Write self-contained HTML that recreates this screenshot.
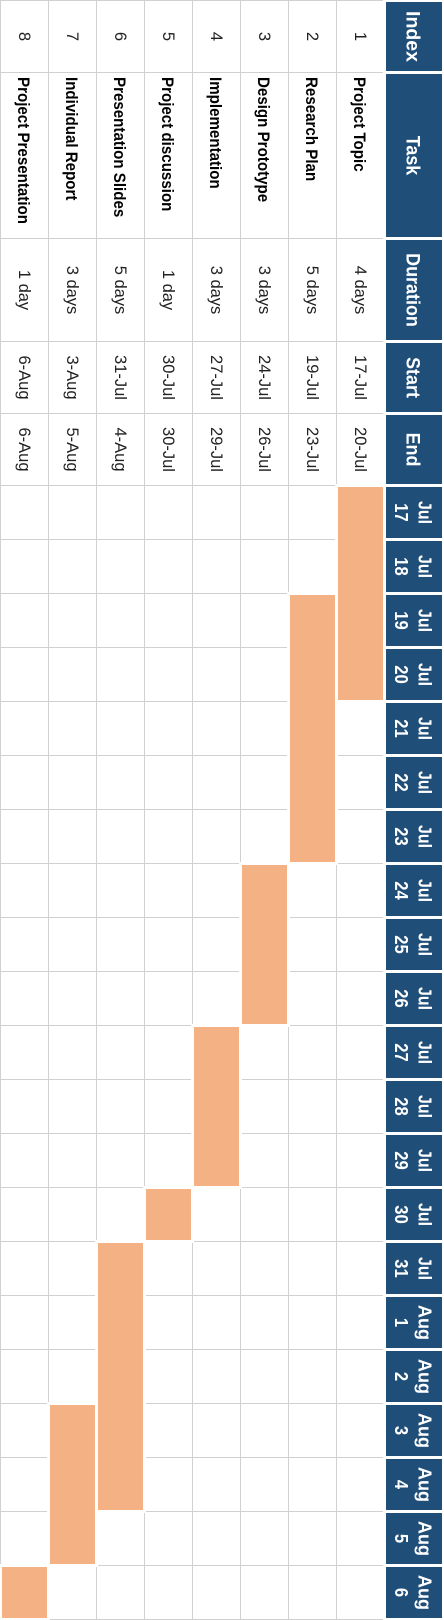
<!DOCTYPE html>
<html lang="en">
<head>
<meta charset="utf-8">
<title>Project Gantt Chart</title>
<style>
  html, body { margin: 0; padding: 0; background: #fff; }
  body { width: 444px; height: 1620px; overflow: hidden; }
  svg { display: block; }
  text { font-family: "Liberation Sans", sans-serif; }
</style>
</head>
<body>
<svg id="chart" width="444" height="1620" viewBox="0 0 444 1620" xmlns="http://www.w3.org/2000/svg">
  <rect x="0" y="0" width="444" height="1620" fill="#ffffff"></rect>
  <g id="grid"></g>
  <g id="bars"></g>
  <g id="headers"></g>
  <g id="cells"></g>
</svg>
<script>
// Chart data
const columnTitles = ['Index', 'Task', 'Duration', 'Start', 'End'];
const taskNames = ['Project Topic', 'Research Plan', 'Design Prototype', 'Implementation', 'Project discussion', 'Presentation Slides', 'Individual Report', 'Project Presentation'];
const startDays = [0, 2, 7, 10, 13, 14, 17, 20];
const durationDays = [4, 5, 3, 3, 1, 5, 3, 1];
const dayMonths = ['Jul', 'Jul', 'Jul', 'Jul', 'Jul', 'Jul', 'Jul', 'Jul', 'Jul', 'Jul', 'Jul', 'Jul', 'Jul', 'Jul', 'Jul', 'Aug', 'Aug', 'Aug', 'Aug', 'Aug', 'Aug'];
const dayNumbers = [17, 18, 19, 20, 21, 22, 23, 24, 25, 26, 27, 28, 29, 30, 31, 1, 2, 3, 4, 5, 6];

// Layout
const NS = 'http://www.w3.org/2000/svg';
const ROW_PITCH = 48;
const DAY_PITCH = 54;
const FIRST_ROW_LEFT = 336;
const DAY_ORIGIN = 485.5;
const GRID_RIGHT = 383;
const columnEdges = [0.5, 72.5, 238.5, 341.5, 413.5, DAY_ORIGIN];
const HEADER_LEFT = 386;
const HEADER_WIDTH = 56;
const GRID_COLOR = '#d0d0d0';
const BAR_COLOR = '#f4b183';
const HEADER_COLOR = '#1f4e79';
const BODY_TEXT_COLOR = '#222222';

const gridLayer = document.getElementById('grid');
const barLayer = document.getElementById('bars');
const headerLayer = document.getElementById('headers');
const cellLayer = document.getElementById('cells');

// Axis functions
function rowX(row) { return FIRST_ROW_LEFT - ROW_PITCH * row; }
function dayY(day) { return DAY_ORIGIN + DAY_PITCH * day; }

function makeRect(parent, x, y, w, h, fill, name) {
  const el = document.createElementNS(NS, 'rect');
  el.setAttribute('x', x);
  el.setAttribute('y', y);
  el.setAttribute('width', w);
  el.setAttribute('height', h);
  el.setAttribute('fill', fill);
  
  
  parent.appendChild(el);
  return el;
}

function makeLine(x1, y1, x2, y2, name) {
  const el = document.createElementNS(NS, 'line');
  el.setAttribute('x1', x1);
  el.setAttribute('y1', y1);
  el.setAttribute('x2', x2);
  el.setAttribute('y2', y2);
  el.setAttribute('stroke', GRID_COLOR);
  el.setAttribute('stroke-width', '1');
  
  
  gridLayer.appendChild(el);
}

// Text rotated 90deg clockwise; baseline sits on the left side at x.
function makeText(parent, str, x, y, size, weight, fill, anchor, stretch, name) {
  const el = document.createElementNS(NS, 'text');
  el.textContent = str;
  el.setAttribute('transform', 'translate(' + x + ' ' + y + ') rotate(90) scale(' + stretch + ' 1)');
  el.setAttribute('font-size', size);
  el.setAttribute('font-weight', weight);
  el.setAttribute('fill', fill);
  el.setAttribute('text-anchor', anchor);
  
  
  parent.appendChild(el);
}

function dateLabel(day) { return dayNumbers[day] + '-' + dayMonths[day]; }
function durationLabel(n) { return n + (n === 1 ? ' day' : ' days'); }
function columnCenter(col) { return (columnEdges[col] + columnEdges[col + 1]) / 2; }

// Grid lines
taskNames.forEach(function (task, r) {
  const x = rowX(r) + 0.5;
  makeLine(x, 0, x, 1620, 'row-line-' + (r + 1));
});
makeLine(0.5, 0, 0.5, 1620, 'row-line-outer');
columnEdges.forEach(function (edge, i) {
  makeLine(0, edge, GRID_RIGHT, edge, 'column-line-' + i);
});
for (let d = 1; d <= dayNumbers.length; d++) {
  makeLine(0, dayY(d), GRID_RIGHT, dayY(d), 'day-line-' + d);
}

// Gantt bars with their white halo
taskNames.forEach(function (task, row) {
  const barX = rowX(row) + 2;
  const barW = ROW_PITCH - 3;
  const barTop = dayY(startDays[row]) + 1.5;
  const barBottom = dayY(startDays[row] + durationDays[row]) - 1.5;
  makeRect(barLayer, barX - 3, barTop - 3, barW + 6, barBottom - barTop + 6, '#ffffff', 'bar-halo-' + (row + 1));
  makeRect(barLayer, barX, barTop, barW, barBottom - barTop, BAR_COLOR, 'task-bar-' + (row + 1));
});

// Column headers
columnTitles.forEach(function (title, col) {
  const top = columnEdges[col] + 1.5;
  const bottom = columnEdges[col + 1] - 1.5;
  makeRect(headerLayer, HEADER_LEFT, top, HEADER_WIDTH, bottom - top, HEADER_COLOR, 'header-cell-' + title.toLowerCase());
  makeText(headerLayer, title, 406.5, (top + bottom) / 2, 19.5, 'bold', '#ffffff', 'middle', col === 0 ? 1 : 0.92, 'header-title-' + title.toLowerCase());
});

// Day headers
dayNumbers.forEach(function (num, d) {
  const top = dayY(d) + 1.5;
  const bottom = dayY(d + 1) - 1.5;
  const center = (top + bottom) / 2;
  makeRect(headerLayer, HEADER_LEFT, top, HEADER_WIDTH, bottom - top, HEADER_COLOR, 'day-header-' + (d + 1));
  makeText(headerLayer, dayMonths[d], 418.5, center, 18.5, 'bold', '#ffffff', 'middle', dayMonths[d] === 'Jul' ? 0.86 : 0.98, 'day-month-' + (d + 1));
  makeText(headerLayer, String(num), 395, center, 18.5, 'bold', '#ffffff', 'middle', 0.9, 'day-number-' + (d + 1));
});

// Table body
taskNames.forEach(function (task, row) {
  const baseline = rowX(row) + 19;
  const last = startDays[row] + durationDays[row] - 1;
  makeText(cellLayer, String(row + 1), baseline, columnCenter(0), 16.5, 'normal', BODY_TEXT_COLOR, 'middle', 1, 'index-cell-' + (row + 1));
  makeText(cellLayer, task, baseline - 1, 77, 17, 'bold', '#000000', 'start', 0.89, 'task-name-' + (row + 1));
  makeText(cellLayer, durationLabel(durationDays[row]), baseline, columnCenter(2), 16.5, 'normal', BODY_TEXT_COLOR, 'middle', 1, 'duration-cell-' + (row + 1));
  makeText(cellLayer, dateLabel(startDays[row]), baseline, columnCenter(3), 16.5, 'normal', BODY_TEXT_COLOR, 'middle', 1, 'start-date-' + (row + 1));
  makeText(cellLayer, dateLabel(last), baseline, columnCenter(4), 16.5, 'normal', BODY_TEXT_COLOR, 'middle', 1, 'end-date-' + (row + 1));
});
</script>
</body>
</html>
